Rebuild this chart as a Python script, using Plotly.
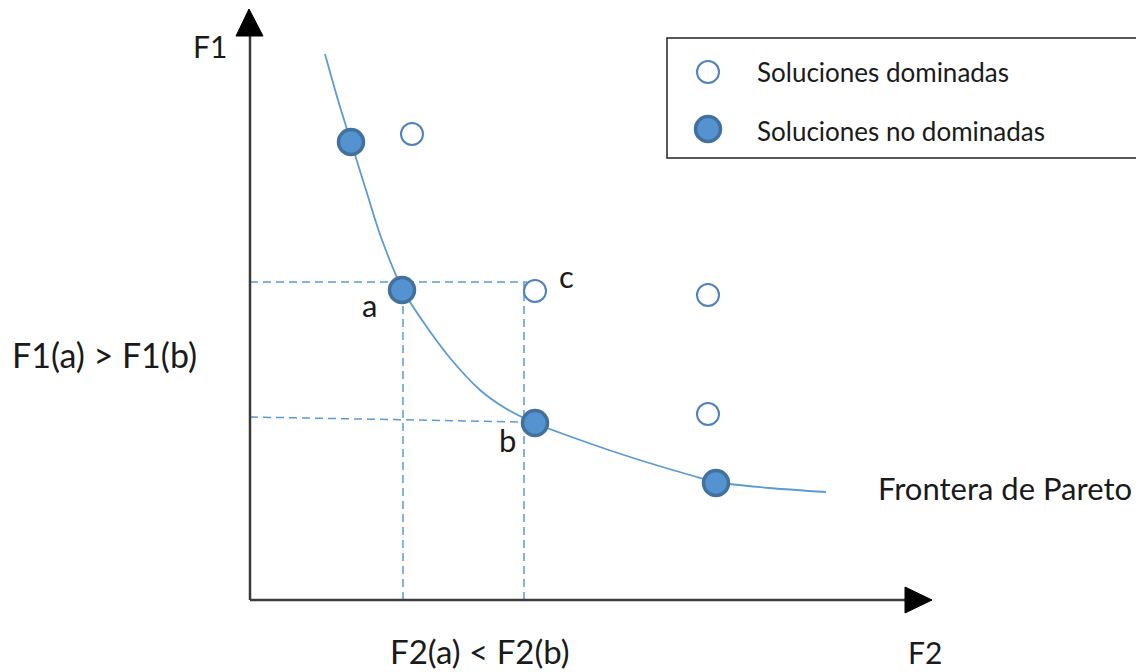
import plotly.graph_objects as go

# ---- Data (F2 on x, F1 on y; arbitrary units) ----
nondom_f2 = [1.01, 1.52, 2.85, 4.66]
nondom_f1 = [4.58, 3.10, 1.77, 1.17]
dom_f2 = [1.62, 2.85, 4.58, 4.58]
dom_f1 = [4.66, 3.09, 3.05, 1.86]
front_f2 = [0.75, 0.88, 1.01, 1.16, 1.32, 1.53, 1.72, 2.00, 2.30, 2.55, 2.85, 3.30, 3.80, 4.40, 4.66, 5.20, 5.76]
front_f1 = [5.46, 5.00, 4.58, 4.10, 3.60, 3.10, 2.80, 2.42, 2.10, 1.92, 1.77, 1.60, 1.43, 1.25, 1.18, 1.12, 1.08]
guide_f2 = [1.53, 2.74]   # F2(a), F2(b)
guide_f1 = [3.18, 1.81]   # F1(a), F1(b)

W, H = 1144, 672
OFF = 8  # page body margin
X0, Y0, S = 250, 600, 100.0
def px(x): return (x - X0) / S
def py(y): return (Y0 - y) / S

BLUE = "#5B9BD5"
FONT = "Lato, Carlito, Calibri, sans-serif"
TXT = "#1a1a1a"
AX = "#3a3a3a"

fig = go.Figure()

# dashed guide lines
fig.add_trace(go.Scatter(x=[0, guide_f2[1] + 0.03], y=[guide_f1[0], guide_f1[0]], mode="lines",
                         line=dict(color=BLUE, width=1.5, dash="8px,5px"), hoverinfo="skip"))
fig.add_trace(go.Scatter(x=[0, guide_f2[1]], y=[guide_f1[1] + 0.02, guide_f1[1] - 0.03], mode="lines",
                         line=dict(color=BLUE, width=1.5, dash="8px,5px"), hoverinfo="skip"))
fig.add_trace(go.Scatter(x=[guide_f2[0], guide_f2[0]], y=[0, guide_f1[0]], mode="lines",
                         line=dict(color=BLUE, width=1.5, dash="8px,5px"), hoverinfo="skip"))
fig.add_trace(go.Scatter(x=[guide_f2[1], guide_f2[1]], y=[0, guide_f1[0]], mode="lines",
                         line=dict(color=BLUE, width=1.5, dash="8px,5px"), hoverinfo="skip"))

# Pareto front curve
fig.add_trace(go.Scatter(x=front_f2, y=front_f1, mode="lines", line=dict(color=BLUE, width=1.8, shape="spline"),
                         hoverinfo="skip"))

# dominated solutions
fig.add_trace(go.Scatter(x=dom_f2, y=dom_f1, mode="markers",
                         marker=dict(size=22, color="white", line=dict(color="#4F81BD", width=2))))
# non-dominated solutions
fig.add_trace(go.Scatter(x=nondom_f2, y=nondom_f1, mode="markers",
                         marker=dict(size=25, color="#5593D0", line=dict(color="#41719C", width=3.5))))

# legend markers (manual legend)
fig.add_trace(go.Scatter(x=[px(708)], y=[py(72)], mode="markers",
                         marker=dict(size=22, color="white", line=dict(color="#4F81BD", width=2))))
fig.add_trace(go.Scatter(x=[px(708)], y=[py(129)], mode="markers",
                         marker=dict(size=25, color="#5593D0", line=dict(color="#41719C", width=3.5))))

shapes = [
    # axes
    dict(type="line", x0=px(250), y0=py(600), x1=px(250), y1=py(34), line=dict(color=AX, width=2.5)),
    dict(type="line", x0=px(250), y0=py(600), x1=px(907), y1=py(600), line=dict(color=AX, width=2.5)),
    dict(type="path", path=f"M {px(236)} {py(36)} L {px(263)} {py(36)} L {px(249)} {py(9)} Z",
         fillcolor="black", line=dict(color="black", width=1)),
    dict(type="path", path=f"M {px(905)} {py(587)} L {px(905)} {py(613)} L {px(932)} {py(600)} Z",
         fillcolor="black", line=dict(color="black", width=1)),
    # legend box
    dict(type="rect", x0=px(667), y0=py(38), x1=px(1138), y1=py(158),
         line=dict(color="#222222", width=1.5), fillcolor="rgba(0,0,0,0)"),
]

def ann(text, x, y, size, xanchor="center"):
    return dict(text=text, x=px(x), y=py(y), xref="x", yref="y", showarrow=False,
                font=dict(family=FONT, size=size, color=TXT), xanchor=xanchor, yanchor="middle")

annotations = [
    ann("F1", 210, 46, 30),
    ann("F1(a) > F1(b)", 10, 354, 34, "left"),
    ann("F2(a) < F2(b)", 388, 651, 33, "left"),
    ann("F2", 925, 652, 30),
    ann("Frontera de Pareto", 876, 488, 31, "left"),
    ann("a", 369, 305, 31),
    ann("b", 507, 440, 31),
    ann("c", 566, 276, 31),
    ann("Soluciones dominadas", 755, 72, 26, "left"),
    ann("Soluciones no dominadas", 755, 131, 26, "left"),
]

fig.update_layout(
    width=W, height=H, margin=dict(l=0, r=0, t=0, b=0),
    paper_bgcolor="white", plot_bgcolor="white", showlegend=False,
    xaxis=dict(range=[px(OFF), px(W + OFF)], visible=False, fixedrange=True),
    yaxis=dict(range=[py(H + OFF), py(OFF)], visible=False, fixedrange=True),
    shapes=shapes, annotations=annotations,
)

fig.write_html("out.html")
